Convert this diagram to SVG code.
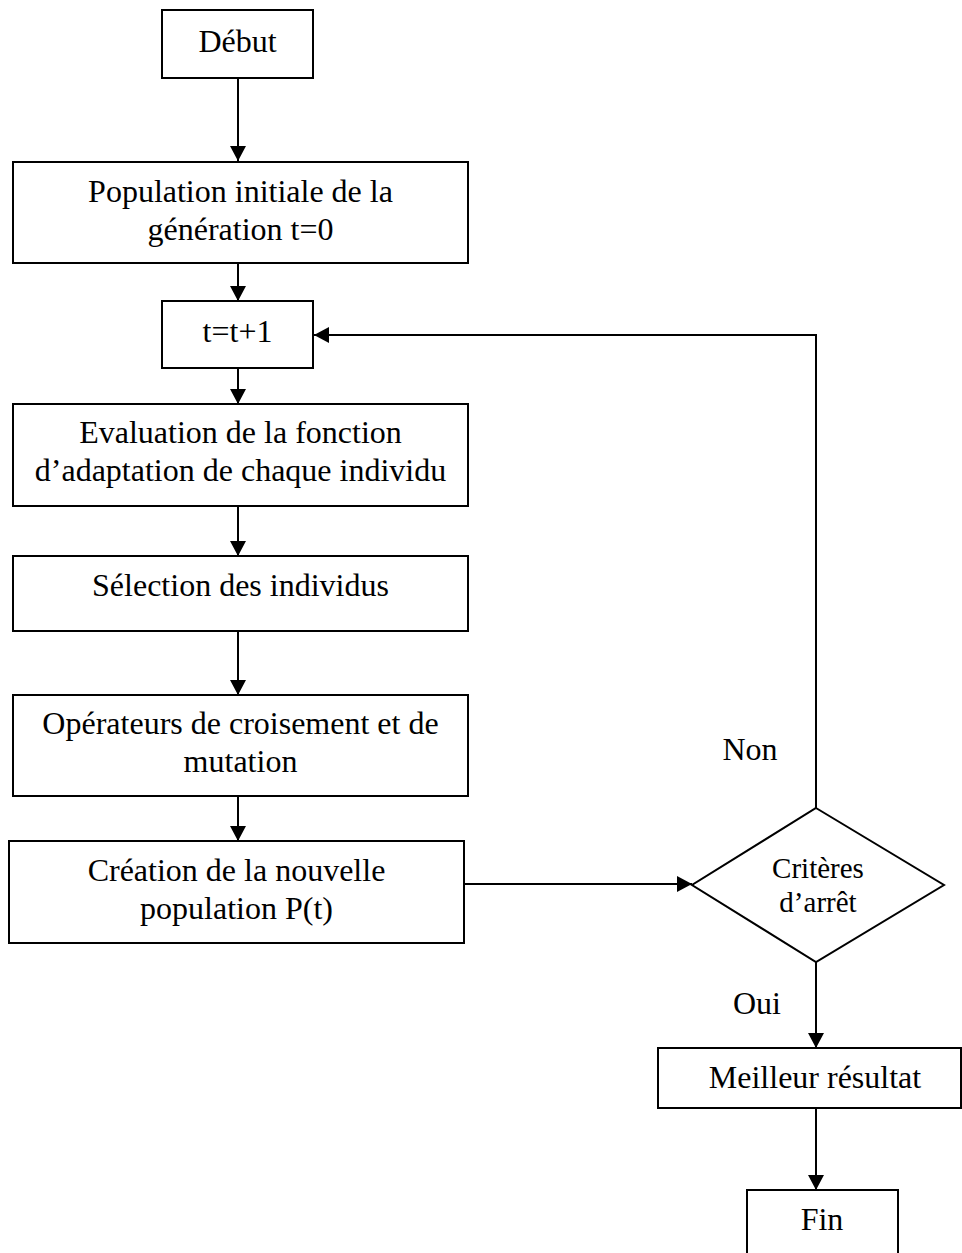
<svg xmlns="http://www.w3.org/2000/svg" width="962" height="1253" viewBox="0 0 962 1253">
  <style>
    .box { fill: #fff; stroke: #000; stroke-width: 2; }
    .line { fill: none; stroke: #000; stroke-width: 2; }
    .lbl { font-family: "Liberation Serif", "Times New Roman", serif; font-size: 32px; fill: #000; text-anchor: middle; }
    .small { font-size: 29px; }
  </style>
  <defs>
    <marker id="arrow" markerUnits="userSpaceOnUse" markerWidth="16" markerHeight="16" refX="15" refY="8" orient="auto">
      <path d="M0,0 L15,8 L0,16 Z" fill="#000"/>
    </marker>
  </defs>
  <rect width="962" height="1253" fill="#fff"/>

  <g id="connectors">
    <line class="line" x1="238" y1="78" x2="238" y2="161" marker-end="url(#arrow)"/>
    <line class="line" x1="238" y1="263" x2="238" y2="301" marker-end="url(#arrow)"/>
    <line class="line" x1="238" y1="368" x2="238" y2="404" marker-end="url(#arrow)"/>
    <line class="line" x1="238" y1="506" x2="238" y2="556" marker-end="url(#arrow)"/>
    <line class="line" x1="238" y1="631" x2="238" y2="695" marker-end="url(#arrow)"/>
    <line class="line" x1="238" y1="793" x2="238" y2="841" marker-end="url(#arrow)"/>
    <line class="line" x1="464" y1="884" x2="692" y2="884" marker-end="url(#arrow)"/>
    <polyline class="line" points="816,808 816,335 314,335" marker-end="url(#arrow)"/>
    <line class="line" x1="816" y1="962" x2="816" y2="1048" marker-end="url(#arrow)"/>
    <line class="line" x1="816" y1="1108" x2="816" y2="1190" marker-end="url(#arrow)"/>
    <text class="lbl" x="750" y="760">Non</text>
    <text class="lbl" x="757" y="1014">Oui</text>
  </g>

  <g id="debut">
    <rect class="box" x="162" y="10" width="151" height="68"/>
    <text class="lbl" x="237.5" y="52">Début</text>
  </g>

  <g id="population-initiale">
    <rect class="box" x="13" y="162" width="455" height="101"/>
    <text class="lbl" x="240.5" y="202">Population initiale de la</text>
    <text class="lbl" x="240.5" y="240">génération t=0</text>
  </g>

  <g id="increment">
    <rect class="box" x="162" y="301" width="151" height="67"/>
    <text class="lbl" x="237.5" y="342">t=t+1</text>
  </g>

  <g id="evaluation">
    <rect class="box" x="13" y="404" width="455" height="102"/>
    <text class="lbl" x="240.5" y="443">Evaluation de la fonction</text>
    <text class="lbl" x="240.5" y="481">d’adaptation de chaque individu</text>
  </g>

  <g id="selection">
    <rect class="box" x="13" y="556" width="455" height="75"/>
    <text class="lbl" x="240.5" y="596">Sélection des individus</text>
  </g>

  <g id="operateurs">
    <rect class="box" x="13" y="695" width="455" height="101"/>
    <text class="lbl" x="240.5" y="734">Opérateurs de croisement et de</text>
    <text class="lbl" x="240.5" y="772">mutation</text>
  </g>

  <g id="creation">
    <rect class="box" x="9" y="841" width="455" height="102"/>
    <text class="lbl" x="236.5" y="881">Création de la nouvelle</text>
    <text class="lbl" x="236.5" y="919">population P(t)</text>
  </g>

  <g id="criteres">
    <polygon class="box" points="816,808 944,885 816,962 692,885"/>
    <text class="lbl small" x="818" y="878">Critères</text>
    <text class="lbl small" x="818" y="912">d’arrêt</text>
  </g>

  <g id="meilleur">
    <rect class="box" x="658" y="1048" width="303" height="60"/>
    <text class="lbl" x="815" y="1088">Meilleur résultat</text>
  </g>

  <g id="fin">
    <rect class="box" x="747" y="1190" width="151" height="70"/>
    <text class="lbl" x="822" y="1230">Fin</text>
  </g>
</svg>
